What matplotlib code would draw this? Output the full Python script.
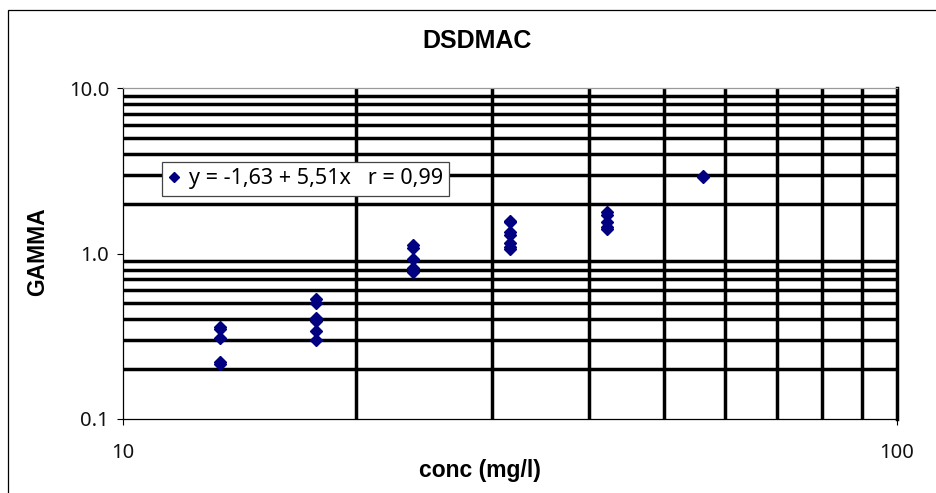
import matplotlib
matplotlib.use("Agg")
import matplotlib.pyplot as plt
from matplotlib.ticker import FixedLocator, FixedFormatter, NullFormatter, LogLocator
from matplotlib.lines import Line2D
from matplotlib.patches import Rectangle

# Measured surfactant concentrations and the GAMMA response at each one
conc = [13.34, 13.34, 13.34, 13.34, 13.34,
        17.78, 17.78, 17.78, 17.78, 17.78, 17.78,
        23.71, 23.71, 23.71, 23.71, 23.71,
        31.62, 31.62, 31.62, 31.62, 31.62, 31.62, 31.62,
        42.17, 42.17, 42.17, 42.17, 42.17,
        56.23, 56.23]
gamma = [0.36, 0.35, 0.31, 0.22, 0.215,
         0.53, 0.50, 0.41, 0.39, 0.34, 0.30,
         1.12, 1.08, 0.93, 0.82, 0.77,
         1.58, 1.54, 1.35, 1.30, 1.15, 1.10, 1.07,
         1.78, 1.72, 1.55, 1.44, 1.40,
         2.95, 2.88]

title = "DSDMAC"
x_label = "conc (mg/l)"
y_label = "GAMMA"
fit_label = "y = -1,63 + 5,51x   r = 0,99"
x_ticks = [10, 100]
x_tick_labels = ["10", "100"]
y_ticks = [0.1, 1.0, 10.0]
y_tick_labels = ["0.1", "1.0", "10.0"]

W, H = 936, 493
fig = plt.figure(figsize=(W / 100, H / 100), dpi=100)
fig.patch.set_facecolor("white")

# outer chart frame
fig.add_artist(Rectangle((8 / W, -0.1), 1.2, 1.1 - 10 / H, transform=fig.transFigure,
                         fill=False, edgecolor="black", linewidth=0.9))

ax = fig.add_axes([123 / W, 1 - 419 / H, (897 - 123) / W, (419 - 88) / H])
ax.set_xscale("log")
ax.set_yscale("log")
ax.set_xlim(10, 100)
ax.set_ylim(0.1, 10)

ax.xaxis.set_major_locator(FixedLocator(x_ticks))
ax.xaxis.set_major_formatter(FixedFormatter(x_tick_labels))
ax.yaxis.set_major_locator(FixedLocator(y_ticks))
ax.yaxis.set_major_formatter(FixedFormatter(y_tick_labels))
ax.xaxis.set_minor_locator(LogLocator(base=10, subs=range(2, 10)))
ax.yaxis.set_minor_locator(LogLocator(base=10, subs=range(2, 10)))
ax.xaxis.set_minor_formatter(NullFormatter())
ax.yaxis.set_minor_formatter(NullFormatter())

ax.grid(which="minor", color="black", linewidth=2.5)
ax.grid(which="major", visible=False)
ax.set_axisbelow(True)

ax.tick_params(which="minor", length=0)
ax.tick_params(which="major", direction="out", length=4, width=0.8, color="black")
ax.tick_params(axis="x", pad=13)
ax.tick_params(axis="y", pad=6)
for lab in ax.get_xticklabels() + ax.get_yticklabels():
    lab.set_fontfamily("Noto Sans")
    lab.set_fontsize(14.5)
    lab.set_color("#111111")

ax.spines["left"].set_linewidth(0.9)
ax.spines["bottom"].set_linewidth(0.9)
ax.spines["top"].set_linewidth(0.9)
ax.spines["top"].set_color("#999999")
ax.spines["right"].set_linewidth(2.5)
ax.spines["right"].set_color("black")

ax.plot(conc, gamma, linestyle="none", marker="D", markersize=6.4,
        color="#000080", markeredgecolor="#000080", zorder=5, clip_on=False)

fig.text(477 / W, 1 - 41 / H, title, ha="center", va="center",
         fontfamily="Liberation Sans", fontweight="bold", fontsize=18)
fig.text(38 / W, 1 - 252 / H, y_label, ha="center", va="center", rotation=90,
         fontfamily="Liberation Sans", fontweight="bold", fontsize=16.5)
fig.text(480 / W, 1 - 471 / H, x_label, ha="center", va="center",
         fontfamily="Liberation Sans", fontweight="bold", fontsize=16.5)

handle = Line2D([], [], linestyle="none", marker="D", markersize=5.5,
                color="#000080")
leg = ax.legend([handle], [fit_label], loc="upper left",
                bbox_to_anchor=(162 / W, 1 - 162 / H), bbox_transform=fig.transFigure,
                borderaxespad=0, fancybox=False, framealpha=1, edgecolor="#444444",
                handlelength=0.5, handletextpad=0.45, borderpad=0.3,
                prop={"family": "Noto Sans", "size": 15.5})
leg.get_frame().set_linewidth(0.9)
leg.set_zorder(10)

fig.savefig("out.png", dpi=100)
